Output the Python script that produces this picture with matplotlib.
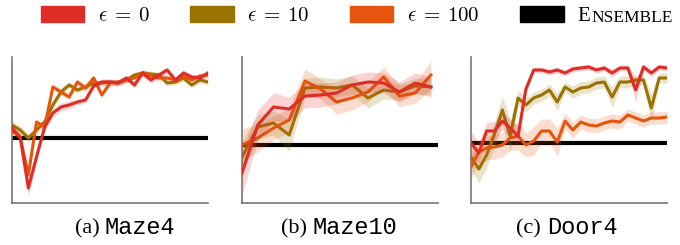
import matplotlib
matplotlib.use("Agg")
import matplotlib.pyplot as plt
from matplotlib.patches import Patch
import numpy as np

plt.rcParams['mathtext.fontset'] = 'cm'

# colours of the three runs and the baseline
C_EPS0 = '#DE2D26'
C_EPS10 = '#997300'
C_EPS100 = '#E6550D'
C_ENS = 'black'

captions = ['(a) ', '(b) ', '(c) ']
env_names = ['Maze4', 'Maze10', 'Door4']

# Maze4 (25 points)
maze4_eps0 = [75, 66, 15, 46, 76, 90, 96, 98, 101, 103, 117, 121, 121, 120, 125, 118, 130, 123, 128, 133, 123, 130, 126, 125, 130]
maze4_eps10 = [78, 73, 65, 73, 81, 98, 111, 118, 113, 116, 120, 120, 121, 120, 123, 128, 130, 129, 128, 120, 121, 125, 118, 123, 121]
maze4_eps100 = [72, 66, 28, 81, 76, 116, 111, 106, 121, 115, 125, 108, 120, 121, 123, 125, 130, 127, 125, 125, 123, 127, 123, 127, 128]
maze4_sd0 = [4, 4, 8, 6, 4, 4, 4, 4, 3, 3, 3, 3, 3, 3, 3, 3, 4, 3, 3, 3, 3, 3, 3, 3, 3]
maze4_sd10 = [4, 4, 4, 4, 4, 4, 4, 3, 3, 3, 3, 3, 3, 3, 3, 3, 3, 3, 3, 3, 3, 3, 3, 3, 3]
maze4_sd100 = [3, 3, 5, 3, 3, 3, 3, 3, 3, 3, 3, 3, 3, 3, 3, 3, 3, 3, 3, 3, 3, 3, 3, 3, 3]
maze4_ens = 64.7

# Maze10 (13 points)
maze10_eps0 = [30, 78, 96, 94, 107, 108, 110, 118, 121, 120, 111, 120, 116]
maze10_eps10 = [46, 76, 80, 68, 115, 116, 115, 118, 105, 113, 111, 117, 116]
maze10_eps100 = [58, 65, 75, 83, 122, 114, 101, 105, 111, 126, 107, 110, 128]
maze10_sd0 = [22, 15, 14, 12, 12, 12, 11, 10, 10, 10, 10, 10, 10]
maze10_sd10 = [16, 12, 12, 16, 10, 10, 9, 9, 10, 9, 8, 8, 8]
maze10_sd100 = [16, 14, 12, 12, 12, 10, 12, 12, 10, 10, 11, 10, 14]
maze10_ens = 58

# Door4 (26 points)
door4_eps0 = [60, 50, 72, 72, 82, 75, 67, 114, 133, 133, 131, 133, 130, 134, 135, 136, 133, 135, 130, 135, 135, 113, 136, 130, 136, 135]
door4_eps10 = [46, 34, 48, 69, 93, 67, 105, 98, 105, 108, 113, 101, 116, 111, 115, 116, 120, 121, 106, 121, 121, 123, 123, 95, 125, 125]
door4_eps100 = [36, 51, 55, 56, 58, 65, 67, 58, 62, 72, 72, 61, 82, 73, 81, 78, 77, 80, 82, 81, 88, 85, 82, 85, 85, 86]
door4_sd0 = [12, 10, 9, 9, 9, 9, 10, 5, 3, 3, 3, 3, 3, 3, 3, 3, 3, 3, 4, 3, 3, 12, 3, 4, 3, 3]
door4_sd10 = [12, 14, 12, 12, 14, 16, 8, 7, 6, 6, 6, 9, 5, 6, 6, 6, 6, 6, 10, 6, 6, 5, 5, 14, 5, 5]
door4_sd100 = [12, 12, 12, 12, 12, 12, 14, 12, 14, 12, 12, 14, 8, 8, 7, 7, 7, 7, 7, 7, 6, 6, 6, 6, 6, 6]
door4_ens = 59.7

panels = [
    (maze4_eps0, maze4_eps10, maze4_eps100, maze4_sd0, maze4_sd10, maze4_sd100, maze4_ens, 24),
    (maze10_eps0, maze10_eps10, maze10_eps100, maze10_sd0, maze10_sd10, maze10_sd100, maze10_ens, 12.45),
    (door4_eps0, door4_eps10, door4_eps100, door4_sd0, door4_sd10, door4_sd100, door4_ens, 25),
]

fig = plt.figure(figsize=(6.8, 2.45), dpi=100)

lefts = [12 / 680, 242 / 680, 471 / 680]
cap_x = [125 / 680, 339 / 680, 567 / 680]

for i, (e0, e10, e100, s0, s10, s100, ens, xmax) in enumerate(panels):
    ax = fig.add_axes([lefts[i], 42 / 245, 196 / 680, 146 / 245])
    ax.axhline(ens, color=C_ENS, lw=3, zorder=1)
    for ys, sd, c, z in [(e10, s10, C_EPS10, 2), (e100, s100, C_EPS100, 3), (e0, s0, C_EPS0, 4)]:
        ys = np.array(ys, dtype=float)
        sd = np.array(sd, dtype=float)
        x = np.arange(len(ys))
        ax.fill_between(x, ys - sd, ys + sd, color=c, alpha=0.2, lw=0, zorder=z)
        ax.plot(x, ys, color=c, lw=2.2, zorder=z + 0.5)
    ax.set_xlim(0, xmax)
    ax.set_ylim(0, 146)
    ax.set_xticks([])
    ax.set_yticks([])
    for s in ['top', 'right']:
        ax.spines[s].set_visible(False)
    for s in ['left', 'bottom']:
        ax.spines[s].set_color('#777777')
        ax.spines[s].set_linewidth(1.2)

fig.canvas.draw()
r = fig.canvas.get_renderer()

# captions drawn in two pieces: serif label + monospace env name
for i in range(3):
    a = fig.text(0, 0.045, captions[i], fontsize=16, family='Liberation Serif', va='baseline')
    b = fig.text(0, 0.045, env_names[i], fontsize=17, family='Liberation Mono', va='baseline')
    wa = a.get_window_extent(r).width / 680
    wb = b.get_window_extent(r).width / 680
    x0 = cap_x[i] - (wa + wb) / 2
    a.set_x(x0)
    b.set_x(x0 + wa)

handles = [Patch(color=C_EPS0), Patch(color=C_EPS10), Patch(color=C_EPS100), Patch(color=C_ENS)]
labels = [r'$\epsilon\:=\:0$', r'$\epsilon\:=\:10$', r'$\epsilon\:=\:100$', 'E']
leg = fig.legend(handles, labels, loc='center left', bbox_to_anchor=(41 / 680, 1 - 16 / 245), ncol=4,
                 frameon=False, handlelength=2.07, handleheight=0.77,
                 columnspacing=1.95, handletextpad=0.67, borderaxespad=0, borderpad=0,
                 prop={'family': 'Liberation Serif', 'size': 15})

# small caps for the last entry
fig.canvas.draw()
bb = leg.get_texts()[3].get_window_extent(r)
fig.text(bb.x1 / 680 + 0.001, bb.y0 / 245, 'NSEMBLE', fontsize=12.5,
         family='Liberation Serif', va='bottom')

fig.savefig('out.png', dpi=100)
